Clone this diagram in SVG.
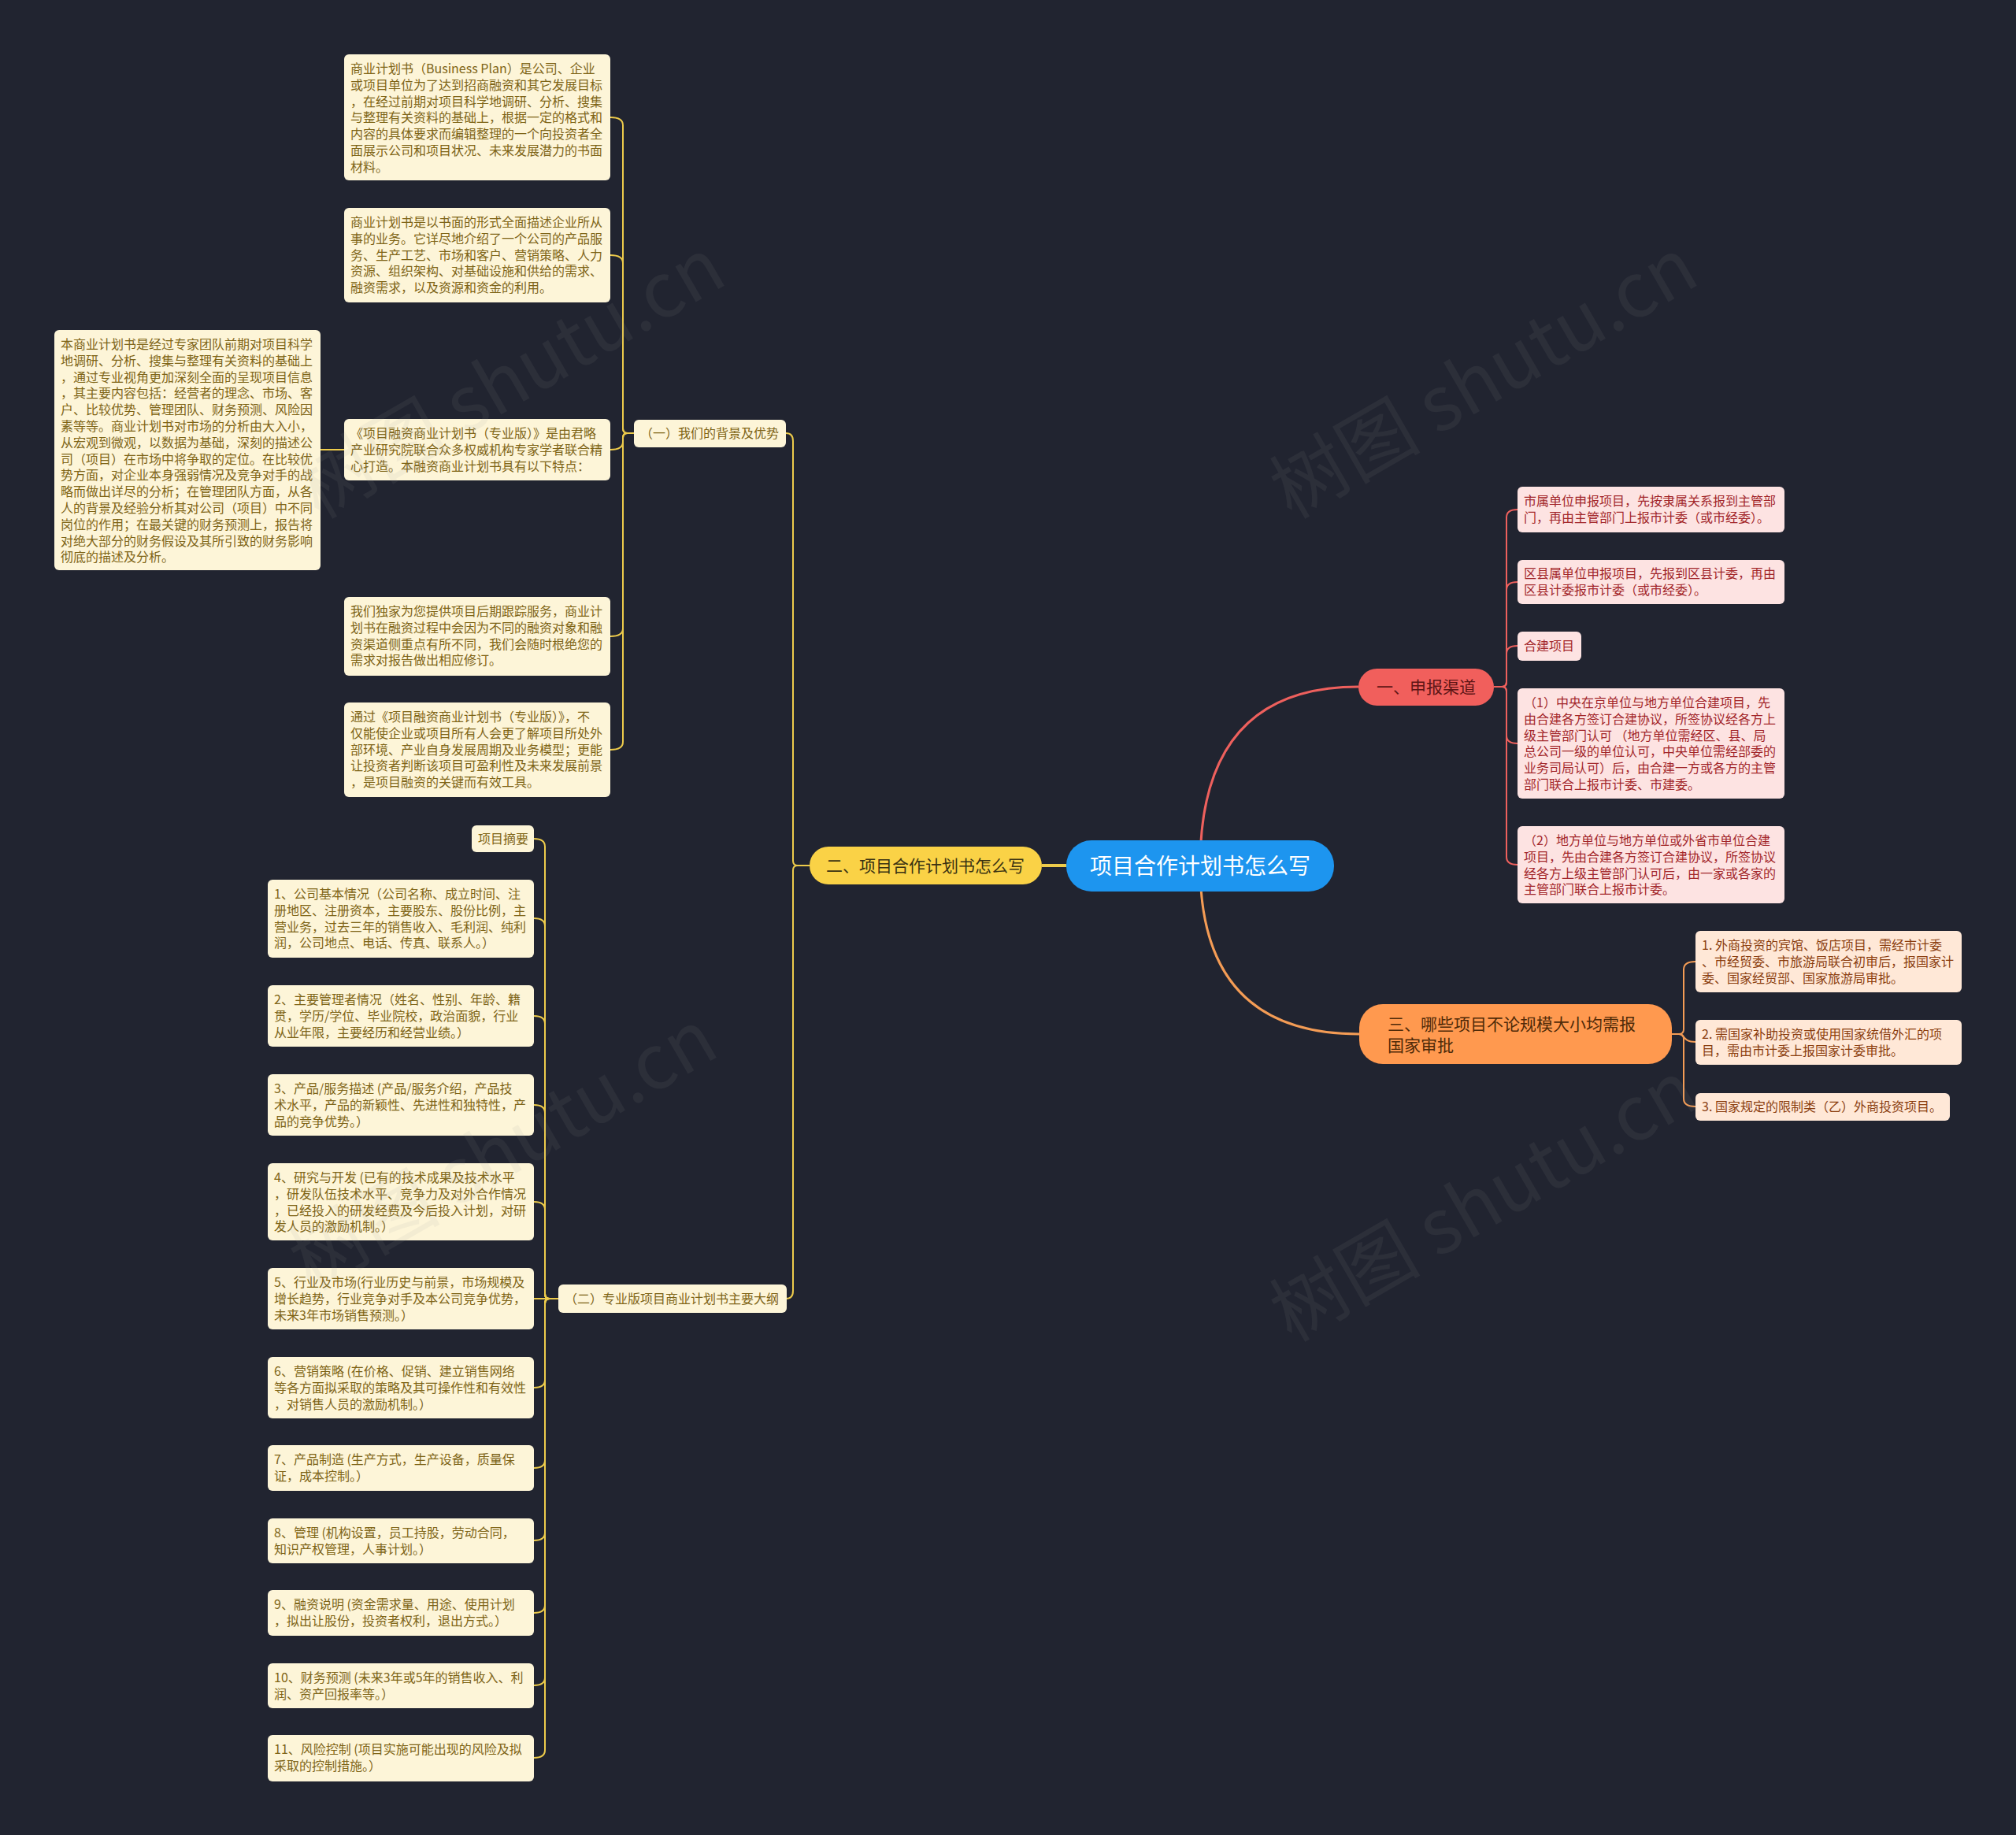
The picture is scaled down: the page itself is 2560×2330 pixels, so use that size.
<svg xmlns="http://www.w3.org/2000/svg" width="2560" height="2330" viewBox="0 0 2560 2330">
<style>
text{font-family:"Noto Sans CJK SC","Noto Sans",sans-serif;}
.by{fill:#FDF5D8;}
.br{fill:#FDE3E2;}
.bo{fill:#FFE8D7;}
.ty{fill:#7E6416;font-size:16px;}
.tr{fill:#A2262A;font-size:16px;}
.to{fill:#8A3D0E;font-size:16px;}
.cy{fill:none;stroke:#EDCB4B;stroke-width:2;}
.cr{fill:none;stroke:#EE605D;stroke-width:2;}
.co{fill:none;stroke:#F49C55;stroke-width:2;}
.wm{font-size:96px;fill:#9a9a9a;opacity:0.09;}
</style>
<rect x="0" y="0" width="2560" height="2330" fill="#212430"/>

<g id="connectors">
  <path d="M1524,1099 Q1524,872 1725,872" fill="none" stroke="#EE605D" stroke-width="3"/>
  <path d="M1524,1099 Q1524,1313 1726,1313" fill="none" stroke="#F49C55" stroke-width="3"/>
  <path d="M1354,1099 H1323" fill="none" stroke="#EDCB4B" stroke-width="4"/>

  <path class="cr" d="M1897,872 H1907 Q1913,872 1913,866 V657 Q1913,647 1927,647"/>
  <path class="cr" d="M1897,872 H1907 Q1913,872 1913,866 V749 Q1913,739 1927,739"/>
  <path class="cr" d="M1897,872 H1907 Q1913,872 1913,866 V830 Q1913,820 1927,820"/>
  <path class="cr" d="M1897,872 H1907 Q1913,872 1913,878 V934 Q1913,944 1927,944"/>
  <path class="cr" d="M1897,872 H1907 Q1913,872 1913,878 V1088 Q1913,1098 1927,1098"/>

  <path class="co" d="M2123,1313 H2132 Q2138,1313 2138,1307 V1231 Q2138,1221 2153,1221"/>
  <path class="co" d="M2123,1313 H2132 C2140,1313 2136,1323 2153,1323"/>
  <path class="co" d="M2123,1313 H2132 Q2138,1313 2138,1319 V1395 Q2138,1405 2153,1405"/>

  <path class="cy" d="M1028,1099 H1013 Q1007,1099 1007,1093 V560 Q1007,550 998,550"/>
  <path class="cy" d="M1028,1099 H1013 Q1007,1099 1007,1105 V1639 Q1007,1649 998,1649"/>

  <path class="cy" d="M805,550 H797 Q791,550 791,544 V159 Q791,149 775,149"/>
  <path class="cy" d="M805,550 H797 Q791,550 791,544 V334 Q791,324 775,324"/>
  <path class="cy" d="M805,550 H797 Q791,550 791,556 V561 Q791,571 775,571"/>
  <path class="cy" d="M805,550 H797 Q791,550 791,556 V798 Q791,808 775,808"/>
  <path class="cy" d="M805,550 H797 Q791,550 791,556 V942 Q791,952 775,952"/>
  <path class="cy" d="M437,571 H407"/>

  <path class="cy" d="M709,1649 H698 Q692,1649 692,1643 V1075 Q692,1065 678,1065"/>
  <path class="cy" d="M709,1649 H698 Q692,1649 692,1643 V1176 Q692,1166 678,1166"/>
  <path class="cy" d="M709,1649 H698 Q692,1649 692,1643 V1300 Q692,1290 678,1290"/>
  <path class="cy" d="M709,1649 H698 Q692,1649 692,1643 V1413 Q692,1403 678,1403"/>
  <path class="cy" d="M709,1649 H698 Q692,1649 692,1643 V1536 Q692,1526 678,1526"/>
  <path class="cy" d="M709,1649 H678"/>
  <path class="cy" d="M709,1649 H698 Q692,1649 692,1655 V1752 Q692,1762 678,1762"/>
  <path class="cy" d="M709,1649 H698 Q692,1649 692,1655 V1854 Q692,1864 678,1864"/>
  <path class="cy" d="M709,1649 H698 Q692,1649 692,1655 V1946 Q692,1956 678,1956"/>
  <path class="cy" d="M709,1649 H698 Q692,1649 692,1655 V2038 Q692,2048 678,2048"/>
  <path class="cy" d="M709,1649 H698 Q692,1649 692,1655 V2130 Q692,2140 678,2140"/>
  <path class="cy" d="M709,1649 H698 Q692,1649 692,1655 V2222 Q692,2232 678,2232"/>
</g>

<g id="root">
  <rect x="1354" y="1067" width="340" height="65" rx="32" fill="#1D95EF"/>
  <text x="1524" y="1110" font-size="28" fill="#FFFFFF" text-anchor="middle">项目合作计划书怎么写</text>
</g>

<g id="branch-1">
  <rect x="1725" y="849" width="172" height="47" rx="23.5" fill="#F15F5C"/>
  <text x="1811" y="880" font-size="21" fill="#5E1515" text-anchor="middle">一、申报渠道</text>
</g>
<g id="branch-2">
  <rect x="1028" y="1075" width="295" height="48" rx="24" fill="#FAD246"/>
  <text x="1175" y="1107" font-size="21" fill="#3A3212" text-anchor="middle">二、项目合作计划书怎么写</text>
</g>
<g id="branch-3">
  <rect x="1726" y="1275" width="397" height="76" rx="30" fill="#FF994F"/>
  <text font-size="21" fill="#4F2A08"><tspan x="1762" y="1308">三、哪些项目不论规模大小均需报</tspan><tspan x="1762" y="1335">国家审批</tspan></text>
</g>

<g id="r1">
  <rect class="br" x="1927" y="618" width="339" height="58" rx="6"/>
  <text class="tr"><tspan x="1935" y="642">市属单位申报项目，先按隶属关系报到主管部</tspan><tspan x="1935" dy="20.8">门，再由主管部门上报市计委（或市经委）。</tspan></text>
</g>
<g id="r2">
  <rect class="br" x="1927" y="711" width="339" height="56" rx="6"/>
  <text class="tr"><tspan x="1935" y="734">区县属单位申报项目，先报到区县计委，再由</tspan><tspan x="1935" dy="20.8">区县计委报市计委（或市经委）。</tspan></text>
</g>
<g id="r3">
  <rect class="br" x="1927" y="802" width="81" height="37" rx="6"/>
  <text class="tr" x="1935" y="826">合建项目</text>
</g>
<g id="r4">
  <rect class="br" x="1927" y="874" width="339" height="140" rx="6"/>
  <text class="tr"><tspan x="1935" y="898">（1）中央在京单位与地方单位合建项目，先</tspan><tspan x="1935" dy="20.8">由合建各方签订合建协议，所签协议经各方上</tspan><tspan x="1935" dy="20.8">级主管部门认可 （地方单位需经区、县、局</tspan><tspan x="1935" dy="20.8">总公司一级的单位认可，中央单位需经部委的</tspan><tspan x="1935" dy="20.8">业务司局认可）后，由合建一方或各方的主管</tspan><tspan x="1935" dy="20.8">部门联合上报市计委、市建委。</tspan></text>
</g>
<g id="r5">
  <rect class="br" x="1927" y="1049" width="339" height="98" rx="6"/>
  <text class="tr"><tspan x="1935" y="1073">（2）地方单位与地方单位或外省市单位合建</tspan><tspan x="1935" dy="20.8">项目，先由合建各方签订合建协议，所签协议</tspan><tspan x="1935" dy="20.8">经各方上级主管部门认可后，由一家或各家的</tspan><tspan x="1935" dy="20.8">主管部门联合上报市计委。</tspan></text>
</g>

<g id="o1">
  <rect class="bo" x="2153" y="1182" width="338" height="78" rx="6"/>
  <text class="to"><tspan x="2161" y="1206">1. 外商投资的宾馆、饭店项目，需经市计委</tspan><tspan x="2161" dy="20.8">、市经贸委、市旅游局联合初审后，报国家计</tspan><tspan x="2161" dy="20.8">委、国家经贸部、国家旅游局审批。</tspan></text>
</g>
<g id="o2">
  <rect class="bo" x="2153" y="1295" width="338" height="57" rx="6"/>
  <text class="to"><tspan x="2161" y="1319">2. 需国家补助投资或使用国家统借外汇的项</tspan><tspan x="2161" dy="20.8">目，需由市计委上报国家计委审批。</tspan></text>
</g>
<g id="o3">
  <rect class="bo" x="2153" y="1388" width="323" height="35" rx="6"/>
  <text class="to" x="2161" y="1411">3. 国家规定的限制类（乙）外商投资项目。</text>
</g>

<g id="label-1">
  <rect class="by" x="805" y="533" width="193" height="35" rx="6"/>
  <text class="ty" x="813" y="556">（一）我们的背景及优势</text>
</g>
<g id="label-2">
  <rect class="by" x="709" y="1631" width="290" height="36" rx="6"/>
  <text class="ty" x="717" y="1655">（二）专业版项目商业计划书主要大纲</text>
</g>

<g id="y1">
  <rect class="by" x="437" y="69" width="338" height="160" rx="6"/>
  <text class="ty"><tspan x="445" y="93">商业计划书（Business Plan）是公司、企业</tspan><tspan x="445" dy="20.8">或项目单位为了达到招商融资和其它发展目标</tspan><tspan x="445" dy="20.8">，在经过前期对项目科学地调研、分析、搜集</tspan><tspan x="445" dy="20.8">与整理有关资料的基础上，根据一定的格式和</tspan><tspan x="445" dy="20.8">内容的具体要求而编辑整理的一个向投资者全</tspan><tspan x="445" dy="20.8">面展示公司和项目状况、未来发展潜力的书面</tspan><tspan x="445" dy="20.8">材料。</tspan></text>
</g>
<g id="y2">
  <rect class="by" x="437" y="264" width="338" height="120" rx="6"/>
  <text class="ty"><tspan x="445" y="288">商业计划书是以书面的形式全面描述企业所从</tspan><tspan x="445" dy="20.8">事的业务。它详尽地介绍了一个公司的产品服</tspan><tspan x="445" dy="20.8">务、生产工艺、市场和客户、营销策略、人力</tspan><tspan x="445" dy="20.8">资源、组织架构、对基础设施和供给的需求、</tspan><tspan x="445" dy="20.8">融资需求，以及资源和资金的利用。</tspan></text>
</g>
<g id="y3">
  <rect class="by" x="437" y="532" width="338" height="78" rx="6"/>
  <text class="ty"><tspan x="445" y="556">《项目融资商业计划书（专业版）》是由君略</tspan><tspan x="445" dy="20.8">产业研究院联合众多权威机构专家学者联合精</tspan><tspan x="445" dy="20.8">心打造。本融资商业计划书具有以下特点：</tspan></text>
</g>
<g id="y3a">
  <rect class="by" x="69" y="419" width="338" height="305" rx="6"/>
  <text class="ty"><tspan x="77" y="443">本商业计划书是经过专家团队前期对项目科学</tspan><tspan x="77" dy="20.8">地调研、分析、搜集与整理有关资料的基础上</tspan><tspan x="77" dy="20.8">，通过专业视角更加深刻全面的呈现项目信息</tspan><tspan x="77" dy="20.8">，其主要内容包括：经营者的理念、市场、客</tspan><tspan x="77" dy="20.8">户、比较优势、管理团队、财务预测、风险因</tspan><tspan x="77" dy="20.8">素等等。商业计划书对市场的分析由大入小，</tspan><tspan x="77" dy="20.8">从宏观到微观，以数据为基础，深刻的描述公</tspan><tspan x="77" dy="20.8">司（项目）在市场中将争取的定位。在比较优</tspan><tspan x="77" dy="20.8">势方面，对企业本身强弱情况及竞争对手的战</tspan><tspan x="77" dy="20.8">略而做出详尽的分析；在管理团队方面，从各</tspan><tspan x="77" dy="20.8">人的背景及经验分析其对公司（项目）中不同</tspan><tspan x="77" dy="20.8">岗位的作用；在最关键的财务预测上，报告将</tspan><tspan x="77" dy="20.8">对绝大部分的财务假设及其所引致的财务影响</tspan><tspan x="77" dy="20.8">彻底的描述及分析。</tspan></text>
</g>
<g id="y4">
  <rect class="by" x="437" y="758" width="338" height="100" rx="6"/>
  <text class="ty"><tspan x="445" y="782">我们独家为您提供项目后期跟踪服务，商业计</tspan><tspan x="445" dy="20.8">划书在融资过程中会因为不同的融资对象和融</tspan><tspan x="445" dy="20.8">资渠道侧重点有所不同，我们会随时根绝您的</tspan><tspan x="445" dy="20.8">需求对报告做出相应修订。</tspan></text>
</g>
<g id="y5">
  <rect class="by" x="437" y="892" width="338" height="120" rx="6"/>
  <text class="ty"><tspan x="445" y="916">通过《项目融资商业计划书（专业版）》，不</tspan><tspan x="445" dy="20.8">仅能使企业或项目所有人会更了解项目所处外</tspan><tspan x="445" dy="20.8">部环境、产业自身发展周期及业务模型；更能</tspan><tspan x="445" dy="20.8">让投资者判断该项目可盈利性及未来发展前景</tspan><tspan x="445" dy="20.8">，是项目融资的关键而有效工具。</tspan></text>
</g>

<g id="i0">
  <rect class="by" x="599" y="1048" width="79" height="34" rx="6"/>
  <text class="ty" x="607" y="1071">项目摘要</text>
</g>
<g id="i1">
  <rect class="by" x="340" y="1117" width="338" height="99" rx="6"/>
  <text class="ty"><tspan x="348" y="1141">1、公司基本情况（公司名称、成立时间、注</tspan><tspan x="348" dy="20.8">册地区、注册资本，主要股东、股份比例，主</tspan><tspan x="348" dy="20.8">营业务，过去三年的销售收入、毛利润、纯利</tspan><tspan x="348" dy="20.8">润，公司地点、电话、传真、联系人。）</tspan></text>
</g>
<g id="i2">
  <rect class="by" x="340" y="1251" width="338" height="78" rx="6"/>
  <text class="ty"><tspan x="348" y="1275">2、主要管理者情况（姓名、性别、年龄、籍</tspan><tspan x="348" dy="20.8">贯，学历/学位、毕业院校，政治面貌，行业</tspan><tspan x="348" dy="20.8">从业年限，主要经历和经营业绩。）</tspan></text>
</g>
<g id="i3">
  <rect class="by" x="340" y="1364" width="338" height="78" rx="6"/>
  <text class="ty"><tspan x="348" y="1388">3、产品/服务描述 (产品/服务介绍，产品技</tspan><tspan x="348" dy="20.8">术水平，产品的新颖性、先进性和独特性，产</tspan><tspan x="348" dy="20.8">品的竞争优势。）</tspan></text>
</g>
<g id="i4">
  <rect class="by" x="340" y="1477" width="338" height="98" rx="6"/>
  <text class="ty"><tspan x="348" y="1501">4、研究与开发 (已有的技术成果及技术水平</tspan><tspan x="348" dy="20.8">，研发队伍技术水平、竞争力及对外合作情况</tspan><tspan x="348" dy="20.8">，已经投入的研发经费及今后投入计划，对研</tspan><tspan x="348" dy="20.8">发人员的激励机制。）</tspan></text>
</g>
<g id="i5">
  <rect class="by" x="340" y="1610" width="338" height="78" rx="6"/>
  <text class="ty"><tspan x="348" y="1634">5、行业及市场(行业历史与前景，市场规模及</tspan><tspan x="348" dy="20.8">增长趋势，行业竞争对手及本公司竞争优势，</tspan><tspan x="348" dy="20.8">未来3年市场销售预测。）</tspan></text>
</g>
<g id="i6">
  <rect class="by" x="340" y="1723" width="338" height="78" rx="6"/>
  <text class="ty"><tspan x="348" y="1747">6、营销策略 (在价格、促销、建立销售网络</tspan><tspan x="348" dy="20.8">等各方面拟采取的策略及其可操作性和有效性</tspan><tspan x="348" dy="20.8">，对销售人员的激励机制。）</tspan></text>
</g>
<g id="i7">
  <rect class="by" x="340" y="1835" width="338" height="58" rx="6"/>
  <text class="ty"><tspan x="348" y="1859">7、产品制造 (生产方式，生产设备，质量保</tspan><tspan x="348" dy="20.8">证，成本控制。）</tspan></text>
</g>
<g id="i8">
  <rect class="by" x="340" y="1928" width="338" height="57" rx="6"/>
  <text class="ty"><tspan x="348" y="1952">8、管理 (机构设置，员工持股，劳动合同，</tspan><tspan x="348" dy="20.8">知识产权管理，人事计划。）</tspan></text>
</g>
<g id="i9">
  <rect class="by" x="340" y="2019" width="338" height="58" rx="6"/>
  <text class="ty"><tspan x="348" y="2043">9、融资说明 (资金需求量、用途、使用计划</tspan><tspan x="348" dy="20.8">，拟出让股份，投资者权利，退出方式。）</tspan></text>
</g>
<g id="i10">
  <rect class="by" x="340" y="2112" width="338" height="57" rx="6"/>
  <text class="ty"><tspan x="348" y="2136">10、财务预测 (未来3年或5年的销售收入、利</tspan><tspan x="348" dy="20.8">润、资产回报率等。）</tspan></text>
</g>
<g id="i11">
  <rect class="by" x="340" y="2203" width="338" height="59" rx="6"/>
  <text class="ty"><tspan x="348" y="2227">11、风险控制 (项目实施可能出现的风险及拟</tspan><tspan x="348" dy="20.8">采取的控制措施。）</tspan></text>
</g>

<g id="watermarks">
  <text class="wm" x="405" y="660" transform="rotate(-30 405 660)">树图 shutu.cn</text>
  <text class="wm" x="1640" y="660" transform="rotate(-30 1640 660)">树图 shutu.cn</text>
  <text class="wm" x="395" y="1640" transform="rotate(-30 395 1640)">树图 shutu.cn</text>
  <text class="wm" x="1640" y="1705" transform="rotate(-30 1640 1705)">树图 shutu.cn</text>
</g>
</svg>
